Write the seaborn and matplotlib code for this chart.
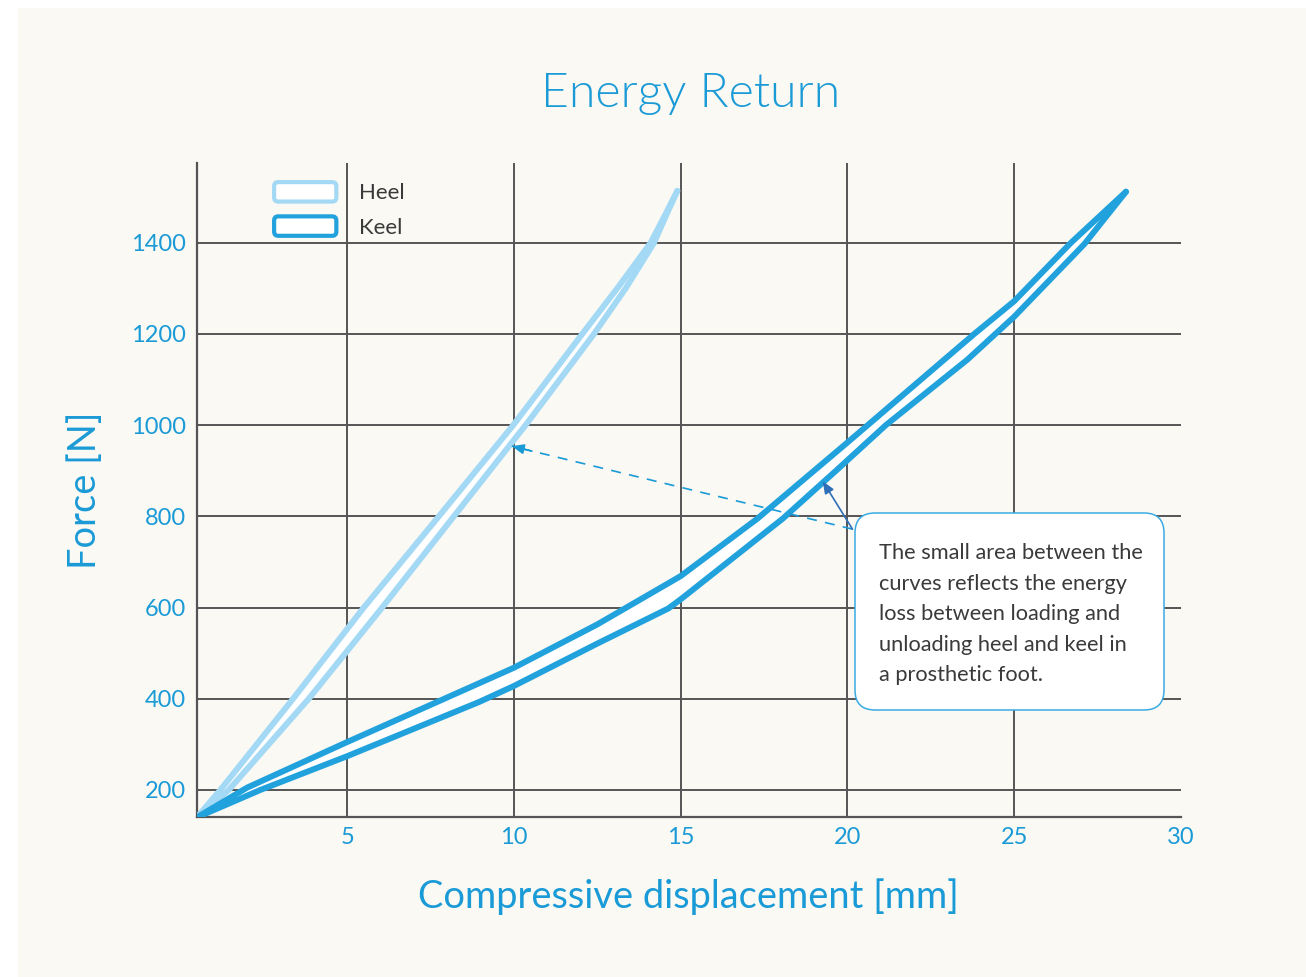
import numpy as np
import matplotlib
matplotlib.use("Agg")
import matplotlib.pyplot as plt
import seaborn as sns
from matplotlib.patches import Patch, Rectangle, FancyBboxPatch
from matplotlib.legend_handler import HandlerPatch
from matplotlib.transforms import IdentityTransform

# ---------------- data ----------------
heel_load_x = [0.5, 1.2, 3.38, 5.5, 7.75, 9.98, 12.05, 13.15, 14.1, 14.57, 14.9]
heel_load_y = [140, 200, 400, 600, 800, 1000, 1200, 1305, 1400, 1466, 1514]
heel_unload_x = [14.9, 14.6, 14.2, 13.35, 12.4, 10.35, 8.2, 6.05, 3.85, 1.45, 0.5]
heel_unload_y = [1514, 1466, 1400, 1300, 1200, 1000, 800, 600, 400, 200, 140]

keel_load_x = [0.5, 2.0, 5.0, 7.7, 10.0, 12.5, 15.0, 17.3, 20.0, 23.8, 25.0, 26.7, 28.35]
keel_load_y = [140, 205, 305, 393, 468, 563, 669, 795, 962, 1200, 1272, 1400, 1512]
keel_unload_x = [28.35, 27.1, 25.0, 23.6, 21.15, 19.7, 18.06, 15.0, 14.63, 12.5, 10.0, 8.96, 5.0, 2.4, 0.5]
keel_unload_y = [1512, 1397, 1238, 1144, 1000, 903, 795, 618, 598, 521, 428, 393, 274, 200, 140]

series_names = ["Heel", "Keel"]
x_ticks = [5, 10, 15, 20, 25, 30]
y_ticks = [200, 400, 600, 800, 1000, 1200, 1400]

title = "Energy Return"
x_label = "Compressive displacement [mm]"
y_label = "Force [N]"
note = ("The small area between the\ncurves reflects the energy\n"
        "loss between loading and\nunloading heel and keel in\na prosthetic foot.")
note_heel_target = (9.94, 954)
note_keel_target = (19.26, 877)
note_start = (20.15, 772)

# ---------------- style ----------------
HEEL_C = "#a4d9f5"
KEEL_C = "#22a2dd"
BLUE = "#1a9ad6"
GRID_C = "#555555"
BG = "#faf9f4"
TXT = "#3a3a3a"

sns.set_theme(style="white")
plt.rcParams["font.family"] = ["Lato", "DejaVu Sans"]

W, H = 1306, 977
fig = plt.figure(figsize=(W / 100, H / 100), dpi=100, facecolor="white")
fig.patches.append(Rectangle((18 / W, 0), 1 - 18 / W, 1 - 8 / H,
                             transform=fig.transFigure, facecolor=BG,
                             edgecolor="none", zorder=-10))

L, R, B, T = 197 / W, 1181 / W, 1 - 817.3 / H, 1 - 163 / H
ax = fig.add_axes([L, B, R - L, T - B])
ax.set_facecolor(BG)

# gridlines
for yv in y_ticks:
    ax.axhline(yv, color=GRID_C, lw=1.4, zorder=0.5)
for xv in x_ticks[:-1]:
    ax.axvline(xv, color=GRID_C, lw=1.4, zorder=0.5)

# white interiors of the hysteresis loops
ax.fill(heel_load_x + heel_unload_x, heel_load_y + heel_unload_y,
        color="white", zorder=1.5, lw=0)
ax.fill(keel_load_x + keel_unload_x, keel_load_y + keel_unload_y,
        color="white", zorder=1.5, lw=0)

line_kw = dict(lw=4.3, solid_capstyle="round", solid_joinstyle="round",
               sort=False, legend=False, zorder=2.5)
sns.lineplot(x=heel_load_x, y=heel_load_y, color=HEEL_C, ax=ax, **line_kw)
sns.lineplot(x=heel_unload_x, y=heel_unload_y, color=HEEL_C, ax=ax, **line_kw)
sns.lineplot(x=keel_load_x, y=keel_load_y, color=KEEL_C, ax=ax, **line_kw)
sns.lineplot(x=keel_unload_x, y=keel_unload_y, color=KEEL_C, ax=ax, **line_kw)

ax.set_xlim(0.5, 30)
ax.set_ylim(140, 1575)
ax.set_xticks(x_ticks)
ax.set_yticks(y_ticks)
ax.set_xticklabels([str(v) for v in x_ticks])
ax.set_yticklabels([str(v) for v in y_ticks])
ax.tick_params(axis="both", length=0, labelsize=17, labelcolor=BLUE)
ax.tick_params(axis="x", pad=7)
ax.tick_params(axis="y", pad=8)
ax.set_xlabel("")
ax.set_ylabel("")
for s in ["top", "right"]:
    ax.spines[s].set_visible(False)
for s in ["left", "bottom"]:
    ax.spines[s].set_color(GRID_C)
    ax.spines[s].set_linewidth(1.6)
    ax.spines[s].set_zorder(0.6)

# titles / labels
fig.text(691 / W, 1 - 94 / H, title, ha="center", va="center",
         fontsize=34.7, color=BLUE, fontweight=300)
fig.text(688 / W, 1 - 897 / H, x_label, ha="center", va="center",
         fontsize=27.4, color=BLUE)
fig.text(85 / W, 1 - 490 / H, y_label, ha="center", va="center",
         fontsize=27.4, color=BLUE, rotation=90)

# legend with rounded outline boxes
def rounded(legend, orig_handle, xdescent, ydescent, width, height, fontsize):
    return FancyBboxPatch((-xdescent, -ydescent), width, height,
                          boxstyle="round,pad=0,rounding_size=3")

handles = [Patch(facecolor="white", edgecolor=HEEL_C, lw=3),
           Patch(facecolor="white", edgecolor=KEEL_C, lw=3)]
leg = fig.legend(handles, series_names, loc="upper left",
                 bbox_to_anchor=(263 / W, 1 - 171 / H), frameon=False,
                 fontsize=16, handlelength=2.8, handleheight=0.97,
                 handletextpad=1.0, labelspacing=0.58, borderpad=0,
                 handler_map={Patch: HandlerPatch(patch_func=rounded)})
for t in leg.get_texts():
    t.set_color(TXT)

# annotation
ax.plot([note_start[0], note_heel_target[0]], [note_start[1], note_heel_target[1]],
        color=BLUE, lw=1.2, ls=(0, (6, 5)), zorder=3)
ax.annotate("", xy=note_heel_target,
            xytext=(note_heel_target[0] + 0.6, note_heel_target[1] - 11),
            arrowprops=dict(arrowstyle="-|>,head_length=0.6,head_width=0.25",
                            color=BLUE, lw=1.2, shrinkA=0, shrinkB=0), zorder=3)
ax.annotate("", xy=note_keel_target, xytext=note_start,
            arrowprops=dict(arrowstyle="-|>,head_length=0.6,head_width=0.25",
                            color="#2f6fb8", lw=1.2, shrinkA=0, shrinkB=0), zorder=3)

# note box (pixel coordinates, y measured from bottom)
box = FancyBboxPatch((855, H - 710), 309, 197,
                     boxstyle="round,pad=0,rounding_size=20",
                     facecolor="white", edgecolor="#3aabe3", lw=1.1,
                     transform=IdentityTransform(), zorder=4)
fig.patches.append(box)
fig.text(879 / W, 1 - 543 / H, note, ha="left", va="top", fontsize=15.7,
         color=TXT, linespacing=1.66, zorder=5)

fig.savefig("out.png", dpi=100, facecolor="white")
